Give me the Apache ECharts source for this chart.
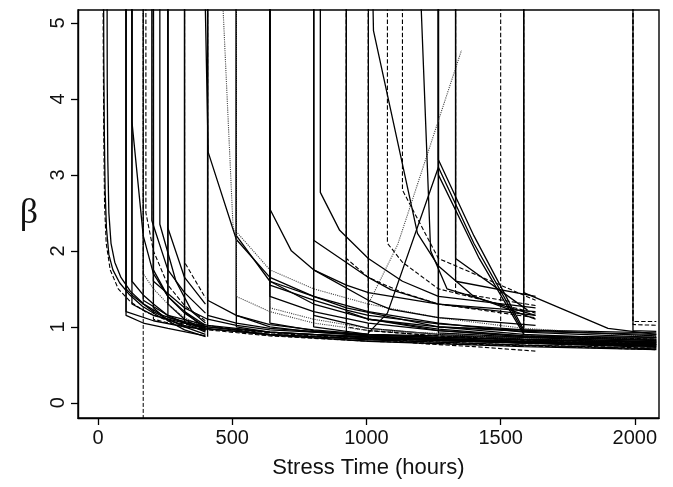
<!DOCTYPE html>
<html>
<head>
<meta charset="utf-8">
<script src="https://cdn.jsdelivr.net/npm/echarts@6/dist/echarts.min.js"></script>
<style>
  html, body { margin: 0; padding: 0; background: #fff; }
  #echarts { width: 673px; height: 487px; }
</style>
</head>
<body>
<div id="echarts"></div>
<script>
// tick labels
const xTicks = [0, 500, 1000, 1500, 2000]
const yTicks = [0, 1, 2, 3, 4, 5]

// each path: [stress time (hours), beta]; values above the top are cut off
const earlyCurves = [
  [[20, 6], [21, 4.6], [23, 3.6], [26, 2.8], [31, 2.3], [40, 1.95], [55, 1.75], [80, 1.58], [115, 1.43], [165, 1.27], [230, 1.13], [320, 1.02], [400, 0.95]],
  [[33, 6], [34, 4.2], [36, 3.2], [40, 2.5], [48, 2.1], [62, 1.85], [85, 1.65], [120, 1.47], [170, 1.3], [240, 1.15], [330, 1.05], [400, 0.99]],
  [[18, 6], [19, 4.8], [21, 3.5], [24, 2.6], [30, 2.1], [45, 1.75], [75, 1.5], [120, 1.33], [175, 1.2], [260, 1.08], [400, 0.98]],
]

const firstBatch = [
  [[104, 6], [104, 1.5], [126, 1.42], [168, 1.3], [206, 1.2], [260, 1.1], [322, 1.0], [400, 0.9]],
  [[126, 6], [126, 3.7], [168, 2.2], [206, 1.7], [260, 1.4], [322, 1.2], [400, 1.02]],
  [[126, 6], [126, 1.6], [168, 1.42], [206, 1.3], [260, 1.15], [322, 1.05], [400, 0.93]],
  [[178, 6], [178, 2.5], [206, 2.0], [260, 1.55], [322, 1.28], [400, 1.08]],
  [[200, 6], [200, 2.4], [260, 1.75], [322, 1.45], [400, 1.18]],
  [[206, 6], [206, 1.75], [260, 1.4], [322, 1.18], [400, 1.0]],
  [[206, 6], [206, 1.25], [260, 1.08], [322, 0.96], [400, 0.87]],
  [[260, 6], [260, 2.3], [322, 1.65], [400, 1.3]],
  [[260, 6], [260, 1.3], [322, 1.1], [400, 0.95]],
  [[322, 6], [322, 1.85], [400, 1.38]],
  [[322, 6], [322, 1.2], [400, 0.97]],
  [[230, 6], [230, 2.35], [290, 1.6], [350, 1.2], [400, 1.05]],
  [[168, 6], [168, 1.7], [206, 1.5], [260, 1.3], [322, 1.12], [400, 0.99]],
  [[104, 6], [104, 1.15], [168, 1.05], [260, 0.98], [400, 0.88]],
  [[408, 6], [408, 0.87]],
]

const longRun = [
  [[104, 6], [104, 1.2], [206, 1.08], [322, 1.0], [408, 0.97], [515, 0.94], [640, 0.9], [803, 0.87], [1007, 0.84], [1268, 0.82], [1586, 0.79], [2080, 0.76]],
  [[168, 6], [168, 1.35], [260, 1.15], [408, 1.02], [515, 0.98], [640, 0.93], [803, 0.9], [1007, 0.87], [1268, 0.84], [1586, 0.81], [2080, 0.78]],
  [[206, 6], [206, 1.6], [322, 1.25], [408, 1.1], [515, 1.02], [640, 0.96], [803, 0.93], [1007, 0.9], [1268, 0.88], [1586, 0.86], [2080, 0.85]],
  [[408, 6], [408, 1.02], [515, 0.96], [640, 0.92], [803, 0.88], [1007, 0.84], [1268, 0.8], [1586, 0.76], [2080, 0.72]],
  [[408, 6], [408, 1.35], [515, 1.15], [640, 1.03], [803, 0.96], [1007, 0.9], [1268, 0.86], [1586, 0.83], [2080, 0.8]],
  [[515, 6], [515, 1.15], [640, 1.0], [803, 0.93], [1007, 0.88], [1268, 0.84], [1586, 0.8], [2080, 0.77]],
  [[515, 6], [515, 2.2], [640, 1.6], [803, 1.3], [925, 1.18], [1007, 1.1], [1268, 1.0], [1586, 0.94], [2080, 0.9]],
  [[640, 6], [640, 1.55], [803, 1.35], [925, 1.22], [1007, 1.15], [1268, 1.04], [1586, 0.96], [2080, 0.92]],
  [[640, 6], [640, 1.05], [803, 0.95], [1007, 0.88], [1268, 0.83], [1586, 0.79], [2080, 0.75]],
  [[803, 6], [803, 1.15], [925, 1.05], [1007, 0.98], [1268, 0.9], [1586, 0.84], [2080, 0.8]],
  [[925, 6], [925, 1.0], [1007, 0.95], [1268, 0.88], [1586, 0.82], [2080, 0.77]],
  [[1007, 6], [1007, 1.1], [1268, 0.97], [1586, 0.88], [2080, 0.82]],
  [[1268, 6], [1268, 1.0], [1586, 0.9], [2080, 0.83]],
  [[640, 6], [640, 1.25], [803, 1.1], [1007, 0.98], [1268, 0.9], [1586, 0.85], [2080, 0.81]],
  [[322, 6], [322, 1.05], [408, 0.98], [640, 0.89], [1007, 0.81], [1586, 0.74], [2080, 0.7]],
  [[260, 6], [260, 1.12], [408, 1.0], [640, 0.9], [1007, 0.83], [1586, 0.76], [2080, 0.71]],
  [[395, 6], [410, 3.3], [515, 2.15], [640, 1.65], [803, 1.4], [1007, 1.2], [1268, 1.05], [1586, 0.93], [2080, 0.86]],
  [[455, 6], [503, 2.3], [640, 1.75], [803, 1.5], [1007, 1.3], [1268, 1.12], [1586, 0.98], [2080, 0.87]],
  [[640, 6], [640, 1.6], [803, 1.4], [925, 1.25], [1268, 1.0], [1630, 0.95]],
  [[126, 6], [126, 1.3], [206, 1.15], [322, 1.05], [408, 1.0], [640, 0.93], [1007, 0.86], [1268, 0.83], [1586, 0.8], [2080, 0.77]],
  [[206, 6], [206, 1.1], [322, 1.0], [408, 0.96], [640, 0.88], [1007, 0.81], [1586, 0.75], [2080, 0.7]],
  [[408, 6], [408, 1.15], [515, 1.05], [640, 0.98], [1007, 0.89], [1586, 0.83], [2080, 0.79]],
  [[515, 6], [515, 1.0], [640, 0.93], [1007, 0.85], [1586, 0.79], [2080, 0.74]],
  [[515, 6], [515, 1.4], [640, 1.2], [803, 1.05], [1007, 0.95], [1586, 0.87], [2080, 0.84]],
  [[640, 6], [640, 1.4], [803, 1.2], [1007, 1.05], [1268, 0.95], [1586, 0.88], [2080, 0.86]],
  [[925, 6], [925, 1.2], [1007, 1.1], [1268, 0.95], [1586, 0.87], [2080, 0.82]],
  [[1007, 6], [1007, 0.95], [1268, 0.88], [1586, 0.83], [2080, 0.78]],
  [[1268, 6], [1268, 0.92], [1586, 0.86], [2080, 0.8]],
  [[803, 6], [803, 1.0], [1007, 0.9], [1268, 0.85], [1586, 0.8], [2080, 0.75]],
  [[1586, 6], [1586, 0.88], [2080, 0.84]],
  [[925, 6], [925, 0.88], [1268, 0.82], [2080, 0.73]],
]

const midBatch = [
  [[640, 6], [640, 2.55], [720, 2.0], [803, 1.75], [925, 1.55], [1007, 1.45], [1268, 1.3], [1630, 1.2]],
  [[828, 6], [828, 2.77], [900, 2.27], [1007, 1.9], [1134, 1.6], [1268, 1.4], [1630, 1.25]],
  [[803, 6], [803, 1.75], [1007, 1.35], [1090, 1.23], [1268, 1.12], [1630, 1.02]],
  [[925, 6], [925, 1.9], [1007, 1.65], [1134, 1.45], [1268, 1.3], [1630, 1.12]],
  [[1020, 6], [1026, 4.9], [1190, 2.23], [1268, 1.8], [1400, 1.4], [1630, 1.1]],
  [[1078, 6], [1078, 2.1], [1134, 1.85], [1268, 1.5], [1630, 1.18]],
  [[1134, 6], [1134, 2.8], [1268, 1.9], [1630, 1.35]],
  [[1268, 6], [1268, 3.2], [1400, 2.2], [1586, 0.96]],
  [[1268, 6], [1268, 3.1], [1400, 2.1], [1586, 0.93]],
  [[1268, 6], [1268, 3.0], [1420, 1.9], [1586, 0.9]],
  [[1007, 1.3], [1116, 2.08], [1354, 4.64]],
  [[1007, 0.92], [1078, 1.18], [1268, 3.1]],
  [[1195, 6], [1239, 2.0], [1300, 1.5], [1630, 1.15]],
  [[1332, 6], [1332, 1.9], [1600, 1.22]],
  [[1332, 6], [1332, 1.45], [1630, 1.28]],
  [[1332, 6], [1332, 1.6], [1630, 1.4]],
  [[1500, 6], [1500, 0.96], [1630, 0.93]],
  [[803, 6], [803, 2.14], [1007, 1.65], [1090, 1.49], [1268, 1.3], [1630, 1.15]],
  [[1007, 6], [1007, 0.85], [1200, 0.78], [1400, 0.74], [1630, 0.68]],
]

const lateBatch = [
  [[1586, 6], [1586, 0.96], [2080, 0.88]],
  [[1586, 6], [1586, 1.45], [1900, 0.98], [2080, 0.9]],
  [[1993, 6], [1993, 1.07], [2080, 1.07]],
  [[1993, 6], [1993, 1.03], [2080, 1.02]],
  [[1993, 6], [1993, 0.95], [2080, 0.94]],
]

// the one path that runs straight through the bottom
const censorLine = [[168, 6], [168, -0.5]]

// line type of each path, group by group
const S = 'solid', D = 'dashed', O = 'dotted'
const earlyTypes = [S, S, D]
const firstTypes = [S, S, S, D, S, S, S, S, S, D, S, S, O, S, S]
const longTypes = [S, S, S, D, S, S, S, S, S, S, D, S, S, O, S, S, S, O, S,
  S, D, S, S, O, S, S, D, S, S, D, S]
const midTypes = [S, S, S, D, S, D, D, S, S, S, O, S, S, S, D, S, D, S, D]
const lateTypes = [S, S, D, D, S]

function toSeries(paths, types) {
  return paths.map((p, i) => {
    const t = types[i] || S
    return {
      type: 'line',
      data: p,
      symbol: 'none',
      clip: true,
      silent: true,
      lineStyle: {
        color: t === O ? '#444' : '#000',
        width: t === S ? 1.3 : 1.1,
        type: t,
      },
    }
  })
}

const series = [
  ...toSeries(earlyCurves, earlyTypes),
  ...toSeries(firstBatch, firstTypes),
  ...toSeries(longRun, longTypes),
  ...toSeries(midBatch, midTypes),
  ...toSeries(lateBatch, lateTypes),
  {
    type: 'line', data: censorLine, symbol: 'none', silent: true,
    lineStyle: { color: '#000', width: 1, type: 'dashed' },
  },
]

const chart = echarts.init(document.querySelector('#echarts'), null, { renderer: 'canvas' })
chart.setOption({
  animation: false,
  backgroundColor: '#fff',
  grid: {
    left: 78, right: 14, top: 10, bottom: 69,
    show: true, borderColor: '#000', borderWidth: 1.4,
  },
  xAxis: {
    type: 'value',
    min: -75, max: 2090,
    name: 'Stress Time (hours)',
    nameLocation: 'middle',
    nameGap: 39,
    nameTextStyle: { fontFamily: 'Liberation Sans', fontSize: 22, color: '#111' },
    axisLine: { onZero: false, lineStyle: { color: '#000', width: 1.4 } },
    axisTick: { show: true, length: 7, customValues: xTicks, lineStyle: { color: '#000', width: 1.3 } },
    axisLabel: {
      customValues: xTicks, margin: 10, formatter: v => String(v),
      fontFamily: 'Liberation Sans', fontSize: 20, color: '#111',
    },
    splitLine: { show: false },
  },
  yAxis: {
    type: 'value',
    min: -0.2, max: 5.17,
    name: 'β',
    nameLocation: 'middle',
    nameRotate: 0,
    nameGap: 40,
    nameTextStyle: { fontFamily: 'Liberation Serif', fontSize: 36, color: '#111' },
    axisLine: { onZero: false, lineStyle: { color: '#000', width: 1.4 } },
    axisTick: { show: true, length: 7, customValues: yTicks, lineStyle: { color: '#000', width: 1.3 } },
    axisLabel: {
      customValues: yTicks, rotate: 90, margin: 10, formatter: v => String(v),
      fontFamily: 'Liberation Sans', fontSize: 20, color: '#111',
    },
    splitLine: { show: false },
  },
  series,
})
</script>
</body>
</html>
